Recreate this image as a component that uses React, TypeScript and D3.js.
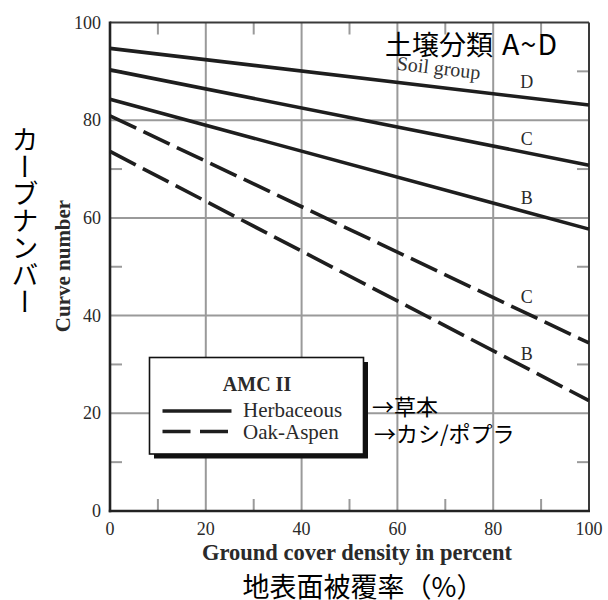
import React from "react";
import * as d3 from "d3";

// Ground cover density (%) at which each curve is evaluated
const coverDensity = [0, 100];

// Herbaceous (solid) curves by soil group
const herbaceousD = [94.7, 83.1];
const herbaceousC = [90.3, 70.8];
const herbaceousB = [84.3, 57.7];

// Oak-Aspen (dashed) curves by soil group
const oakAspenC = [80.9, 34.4];
const oakAspenB = [73.6, 22.6];

// Axis ticks
const majorTicks = [0, 20, 40, 60, 80, 100];
const minorTicks = [10, 30, 50, 70, 90];

// Soil-group letters next to each curve: [group, x in %, curve number]
const groupLabels: [string, number, number][] = [
  ["D", 87, 86.6],
  ["C", 87, 74.9],
  ["B", 87, 62.8],
  ["C", 87, 42.6],
  ["B", 87, 30.9],
];

const W = 608;
const H = 600;
const left = 110;
const right = 589;
const top = 22.5;
const bottom = 511;

const serif = "'Liberation Serif', 'Times New Roman', serif";
const jp = "'Noto Sans CJK JP', 'Noto Sans', sans-serif";
const grid = "#9a9a9a";
const ink = "#1e1e1e";

export default function App() {
  const x = d3.scaleLinear().domain([0, 100]).range([left, right]);
  const y = d3.scaleLinear().domain([0, 100]).range([bottom, top]);
  const line = d3
    .line<number>()
    .x((_, i) => x(coverDensity[i]))
    .y((d) => y(d));

  const solid = [herbaceousD, herbaceousC, herbaceousB];
  const dashed = [oakAspenC, oakAspenB];
  const dash = "29 8";
  const tick = 12;

  // legend box
  const lg = { x: 149.5, y: 357.5, w: 214, h: 96.5 };

  return (
    <svg
      width={W}
      height={H}
      viewBox={`0 0 ${W} ${H}`}
      style={{ position: "absolute", left: 0, top: 0, display: "block", background: "#fff" }}
    >
      {/* major grid */}
      {majorTicks.slice(1, -1).map((t) => (
        <g key={`g${t}`} stroke={grid} strokeWidth={2}>
          <line x1={x(t)} x2={x(t)} y1={top} y2={bottom} />
          <line x1={left} x2={right} y1={y(t)} y2={y(t)} />
        </g>
      ))}
      {/* minor ticks on all four sides */}
      {minorTicks.map((t) => (
        <g key={`m${t}`} stroke={grid} strokeWidth={2}>
          <line x1={x(t)} x2={x(t)} y1={bottom} y2={bottom - tick} />
          <line x1={x(t)} x2={x(t)} y1={top} y2={top + tick} />
          <line x1={left} x2={left + tick} y1={y(t)} y2={y(t)} />
          <line x1={right - tick} x2={right} y1={y(t)} y2={y(t)} />
        </g>
      ))}

      {/* frame */}
      <line x1={left} x2={right} y1={top} y2={top} stroke="#3a3a3a" strokeWidth={2} />
      <line x1={right} x2={right} y1={top} y2={bottom} stroke="#3a3a3a" strokeWidth={2} />
      <line x1={left} x2={left} y1={top - 1} y2={bottom + 1.2} stroke="#222" strokeWidth={2.6} />
      <line x1={left - 1.2} x2={right + 1} y1={bottom} y2={bottom} stroke="#222" strokeWidth={2.6} />

      {/* curves */}
      {solid.map((s, i) => (
        <path key={`s${i}`} d={line(s) || ""} fill="none" stroke={ink} strokeWidth={3.6} />
      ))}
      {dashed.map((s, i) => (
        <path
          key={`d${i}`}
          d={line(s) || ""}
          fill="none"
          stroke={ink}
          strokeWidth={3.6}
          strokeDasharray={dash}
        />
      ))}

      {/* group letters */}
      {groupLabels.map(([g, gx, gy], i) => (
        <text
          key={`l${i}`}
          x={x(gx)}
          y={y(gy)}
          textAnchor="middle"
          fontFamily={serif}
          fontSize={18}
          fill="#2a2a2a"
        >
          {g}
        </text>
      ))}
      <text
        x={438}
        y={74.5}
        textAnchor="middle"
        fontFamily={serif}
        fontSize={20}
        fill="#333"
        transform="rotate(6.6 438 74.5)"
      >
        Soil group
      </text>
      <text x={385} y={55} fontFamily={jp} fontSize={27} fill="#000">
        土壌分類
        <tspan x={502} fontSize={28.5} letterSpacing={1.2}>
          A~D
        </tspan>
      </text>

      {/* tick labels */}
      {majorTicks.map((t) => (
        <text
          key={`yt${t}`}
          x={101}
          y={y(t) + 6}
          textAnchor="end"
          fontFamily={serif}
          fontSize={18}
          fill="#2a2a2a"
        >
          {t}
        </text>
      ))}
      {majorTicks.map((t) => (
        <text
          key={`xt${t}`}
          x={x(t)}
          y={535}
          textAnchor="middle"
          fontFamily={serif}
          fontSize={18}
          fill="#2a2a2a"
        >
          {t}
        </text>
      ))}

      {/* axis titles */}
      <text
        x={357}
        y={560}
        textAnchor="middle"
        fontFamily={serif}
        fontWeight="bold"
        fontSize={22.5}
        fill="#2a2a2a"
      >
        Ground cover density in percent
      </text>
      <text
        x={70}
        y={266}
        textAnchor="middle"
        fontFamily={serif}
        fontWeight="bold"
        fontSize={21}
        fill="#2a2a2a"
        transform="rotate(-90 70 266)"
      >
        Curve number
      </text>
      <text x={363} y={597} textAnchor="middle" fontFamily={jp} fontSize={27} fill="#000">
        地表面被覆率（%）
      </text>
      <text
        x={25}
        y={126}
        fontFamily={jp}
        fontSize={27}
        fill="#000"
        style={{ writingMode: "vertical-rl" }}
      >
        カーブナンバー
      </text>

      {/* legend */}
      <rect x={lg.x + 4.5} y={lg.y + 4.5} width={lg.w} height={lg.h} fill="#111" />
      <rect x={lg.x} y={lg.y} width={lg.w} height={lg.h} fill="#fff" stroke="#111" strokeWidth={1.6} />
      <text
        x={257}
        y={391}
        textAnchor="middle"
        fontFamily={serif}
        fontWeight="bold"
        fontSize={20}
        fill="#2a2a2a"
      >
        AMC II
      </text>
      <line x1={162.5} x2={231.5} y1={411} y2={411} stroke={ink} strokeWidth={3.6} />
      <line
        x1={162.5}
        x2={231.5}
        y1={431.5}
        y2={431.5}
        stroke={ink}
        strokeWidth={3.6}
        strokeDasharray="28 9.5"
      />
      <text x={243} y={417} fontFamily={serif} fontSize={21} fill="#2a2a2a">
        Herbaceous
      </text>
      <text x={243} y={439} fontFamily={serif} fontSize={21} fill="#2a2a2a">
        Oak-Aspen
      </text>
      <text x={372} y={415} fontFamily={jp} fontSize={22} fill="#000">
        →草本
      </text>
      <text x={374} y={442} fontFamily={jp} fontSize={22} fill="#000">
        →カシ/ポプラ
      </text>
    </svg>
  );
}
